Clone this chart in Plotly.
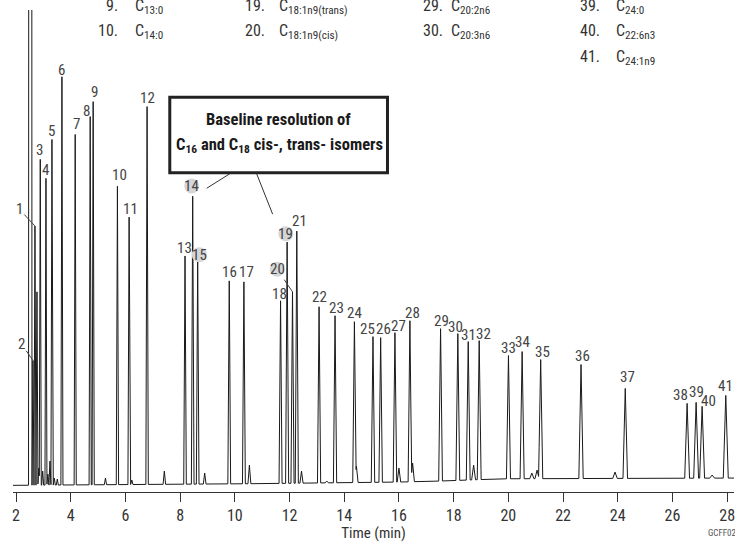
import numpy as np
import plotly.graph_objects as go

# ---------------- data ----------------
peak_numbers = list(range(1, 42))
peak_times = [2.693, 2.620, 2.887, 3.095, 3.314, 3.679, 4.164, 4.712, 4.821, 5.708,
              6.135, 6.792, 8.179, 8.460, 8.642, 9.796, 10.332, 11.672, 11.912, 12.109,
              12.266, 13.080, 13.664, 14.372, 15.051, 15.332, 15.854, 16.401, 17.522, 18.153,
              18.533, 18.934, 20.004, 20.504, 21.182, 22.657, 24.274, 26.536, 26.865, 27.084,
              27.949]
peak_signal = [267, 132, 334, 315, 354, 417, 359, 377, 392, 307,
               276, 387, 237, 297, 231, 212, 211, 192, 251, 201,
               262, 186, 177, 171, 156, 155, 160, 172, 164, 159,
               151, 152, 137, 141, 133, 128, 104, 89, 90, 86,
               97]

solvent_time = 2.52
solvent_signal = 5000          # off scale

minor_times = [2.766, 2.835, 2.975, 3.165, 3.241, 3.400, 3.510, 5.270, 6.234, 7.423,
               8.898, 10.533, 12.438, 13.361, 14.446, 16.000, 16.500, 18.730, 20.860,
               21.050, 23.900, 27.450]
minor_signal = [201, 24, 21, 18, 31, 14, 13, 14, 12, 21,
                19, 27, 21, 11, 26, 24, 29, 27, 19,
                22, 20, 17]

baseline_times = [1.89, 10.5, 16.0, 17.5, 19.0, 20.0, 28.25]
baseline_signal = [6.7, 8.3, 10.0, 11.0, 12.5, 13.3, 14.0]

tick_values = list(range(2, 29, 2))

legend_numbers = ["9.", "10.", "19.", "20.", "29.", "30.", "39.", "40.", "41."]
legend_compounds = ["13:0", "14:0", "18:1n9(trans)", "18:1n9(cis)", "20:2n6", "20:3n6",
                    "24:0", "22:6n3", "24:1n9"]
highlighted = [14, 15, 19, 20]

# ---------------- styling / layout constants ----------------
NARROW = ("Noto Sans Condensed, Roboto Condensed, Liberation Sans Narrow, "
          "DejaVu Sans Condensed, sans-serif")
W, H = 735, 542
ML, MR, MT, MB = 13, 0, 10, 48
PW, PH = W - ML - MR, H - MT - MB
XR = [1.89, 28.25]
YR = [0, PH]


def px(p):
    return (p - ML) / PW


def py(p):
    return (H - MB - p) / PH


def half_width(t):
    return 0.034 + 0.0022 * (t - 2)


# ---------------- build the trace from the peak table ----------------
centers = [solvent_time] + peak_times + minor_times
apexes = [solvent_signal] + peak_signal + minor_signal
widths = [0.062] + [half_width(t) for t in peak_times + minor_times]

verts = set([XR[0], XR[1]] + baseline_times)
for c, w in zip(centers, widths):
    verts.update([c - w, c, c + w])
xs = np.array(sorted(v for v in verts if XR[0] <= v <= XR[1]))
ys = np.interp(xs, baseline_times, baseline_signal)
for c, a, w in zip(centers, apexes, widths):
    h = a - np.interp(c, baseline_times, baseline_signal)
    ys = ys + h * np.clip(1 - np.abs(xs - c) / w, 0, None)

fig = go.Figure()
fig.add_trace(go.Scatter(x=xs, y=ys, mode="lines",
                         line=dict(color="#1a1a1a", width=1), hoverinfo="skip",
                         showlegend=False))

# ---------------- peak labels ----------------
label_offsets = {
    3: (-0.7, 9.3), 4: (0, 8), 5: (0, 8.3), 6: (0, 7), 7: (1, 10), 8: (-3.3, 6),
    9: (1, 10), 10: (1.7, 11), 11: (1, 8), 12: (0.7, 9), 13: (-0.7, 8), 14: (-1, 10.3),
    15: (1.6, 7.3), 16: (0.4, 9.3), 17: (3, 10), 18: (-0.7, 6.7), 19: (-1.3, 8.3),
    21: (3, 10), 22: (0, 9.3), 23: (1.7, 7.3), 24: (0, 8.7), 25: (-5.3, 7.7),
    26: (3, 9), 27: (3.7, 6.7), 28: (2.7, 8), 29: (1, 8), 30: (-2.3, 6.3), 31: (0, 6.3),
    32: (4.3, 7), 33: (0, 7.7), 34: (0, 9.3), 35: (1.7, 8), 36: (1.3, 9), 37: (2, 11),
    38: (-7, 8), 39: (0, 10), 40: (6, 5.3), 41: (0, 9.7),
}
arrow_offsets = {1: (-15.7, -17), 2: (-11.7, -17), 20: (-15.4, -22.6)}

annotations = []
shapes = []
LABEL_FONT = dict(family=NARROW, size=15, color="#444")
for n, t, s in zip(peak_numbers, peak_times, peak_signal):
    if n in arrow_offsets:
        ax, ay = arrow_offsets[n]
        annotations.append(dict(x=t, y=s, xref="x", yref="y", text=str(n), showarrow=True,
                                arrowhead=0, arrowwidth=1, arrowcolor="#444", ax=ax, ay=ay,
                                standoff=0, font=LABEL_FONT))
        cx, cy = ax, -ay
    else:
        dx, dy = label_offsets[n]
        annotations.append(dict(x=t, y=s, xref="x", yref="y", text=str(n), showarrow=False,
                                xanchor="center", yanchor="middle", xshift=dx, yshift=dy,
                                font=LABEL_FONT))
        cx, cy = dx, dy
    if n in highlighted:
        r = 7.5
        shapes.append(dict(type="circle", xref="x", yref="y", xsizemode="pixel",
                           ysizemode="pixel", xanchor=t, yanchor=s,
                           x0=cx - r, x1=cx + r, y0=cy - r, y1=cy + r,
                           fillcolor="#d6d6d6", line=dict(width=0), layer="above"))

# ---------------- compound list at the top ----------------
col_num_right = [120, 120, 267, 267, 446, 446, 603, 603, 603]
col_name_left = [133, 133, 277, 277, 450, 450, 615, 615, 615]
row_baseline = [9, 35, 9, 35, 9, 35, 9, 35, 61]
LEG_FONT = dict(family=NARROW, size=16, color="#333")
for i, (num, comp) in enumerate(zip(legend_numbers, legend_compounds)):
    top = row_baseline[i] - 15.5
    annotations.append(dict(x=px(col_num_right[i]), y=py(top), xref="paper", yref="paper",
                            text=num, showarrow=False, xanchor="right", yanchor="top",
                            font=LEG_FONT))
    annotations.append(dict(x=px(col_name_left[i]), y=py(top), xref="paper", yref="paper",
                            text="C<sub>" + comp + "</sub>", showarrow=False,
                            xanchor="left", yanchor="top", font=LEG_FONT))

# ---------------- callout box ----------------
shapes.append(dict(type="rect", xref="paper", yref="paper", x0=px(170), x1=px(388),
                   y0=py(173.3), y1=py(97.7), line=dict(color="#222", width=3),
                   fillcolor="white", layer="above"))
shapes.append(dict(type="line", xref="paper", yref="paper", x0=px(230), y0=py(174.5),
                   x1=px(207), y1=py(189), line=dict(color="#333", width=1)))
shapes.append(dict(type="line", xref="paper", yref="paper", x0=px(257), y0=py(174.5),
                   x1=px(273), y1=py(215), line=dict(color="#333", width=1)))
BOX_FONT = dict(family=NARROW, size=16.5, color="#1a1a1a")
annotations.append(dict(x=px(279), y=py(108.5), xref="paper", yref="paper",
                        text="<b>Baseline resolution of</b>", showarrow=False,
                        xanchor="center", yanchor="top", font=BOX_FONT))
annotations.append(dict(x=px(280), y=py(133.5), xref="paper", yref="paper",
                        text="<b>C<sub>16</sub> and C<sub>18</sub> cis-, trans- isomers</b>",
                        showarrow=False, xanchor="center", yanchor="top", font=BOX_FONT))

annotations.append(dict(x=px(707), y=py(535), xref="paper", yref="paper", text="GCFF02",
                        showarrow=False, xanchor="left", yanchor="middle",
                        font=dict(family=NARROW, size=9, color="#555")))

fig.update_layout(
    width=W, height=H, margin=dict(l=ML, r=MR, t=MT, b=MB),
    paper_bgcolor="white", plot_bgcolor="white",
    showlegend=False, annotations=annotations, shapes=shapes,
    xaxis=dict(range=XR, showgrid=False, zeroline=False, showline=True, linecolor="#333",
               linewidth=1.3, ticks="outside", ticklen=9, tickwidth=1.3, tickcolor="#333",
               tickvals=tick_values, ticktext=[str(v) for v in tick_values],
               ticklabeloverflow="allow",
               tickfont=dict(family=NARROW, size=16, color="#333"),
               title=dict(text="Time (min)", standoff=6,
                          font=dict(family=NARROW, size=15, color="#333"))),
    yaxis=dict(range=YR, visible=False, showgrid=False, zeroline=False),
)

fig.write_html("out.html", config={"displayModeBar": False},
               post_script="document.body.style.margin='0px';"
                           "document.body.style.overflow='hidden';")
